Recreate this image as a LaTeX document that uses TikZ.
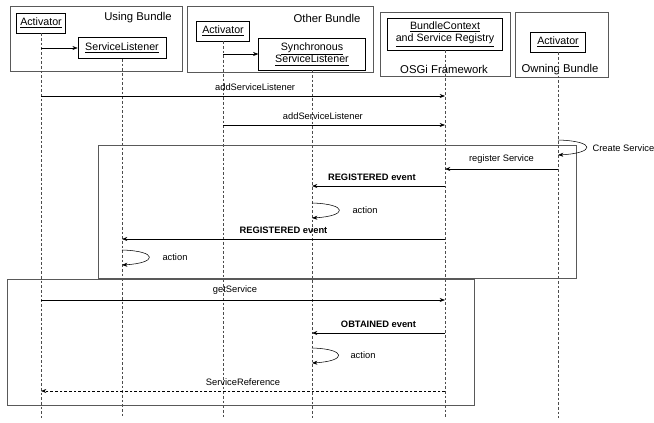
\documentclass[tikz,border=0pt]{standalone}
\usepackage{fontspec}
\setmainfont{Liberation Sans}
\usetikzlibrary{arrows.meta,calc}
\tikzset{
>={Stealth[length=4pt,width=3pt]},
obj/.style={draw,thin,inner sep=2pt,font=\fontsize{8}{9.5}\selectfont,align=center},
bundle/.style={draw,thin,gray!70!black},
vita/.style={dash pattern=on 2pt off 1.5pt,thin,gray!60!black},
msg/.style={->,thin},
risposta/.style={->,thin,dash pattern=on 2pt off 1.5pt},
etichetta/.style={font=\fontsize{7}{8.5}\selectfont,inner sep=1pt},
evento/.style={font=\fontsize{7}{8.5}\selectfont\bfseries,inner sep=1pt},
titolo/.style={font=\fontsize{8.5}{10}\selectfont,inner sep=1pt}}

\begin{document}
\begin{tikzpicture}[x=0.75pt,y=-0.75pt]

\useasboundingbox (0,0) rectangle (654,422);

% bundles
\draw[bundle] (10,6) rectangle (182,71);
\draw[bundle] (187,6) rectangle (373,72);
\draw[bundle] (380,12) rectangle (510,76);
\draw[bundle] (515,12) rectangle (608,77);

\node[titolo] (t1) at (138,18) {Using Bundle};
\node[titolo] (t2) at (327,18) {Other Bundle};
\node[titolo] (t3) at (444,69) {OSGi Framework};
\node[titolo] (t4) at (560,70) {Owning Bundle};

\node[obj,minimum width=37pt,minimum height=15pt] (act1) at (41,23) {\underline{Activator}};
\node[obj,minimum width=66pt,minimum height=16pt] (sl) at (122,48) {\underline{ServiceListener}};
\node[obj,minimum width=40pt,minimum height=15pt] (act2) at (223,31) {\underline{Activator}};
\node[obj,minimum width=80pt,minimum height=24pt] (ssl) at (312,54) {\underline{Synchronous}\\\underline{ServiceListener}};
\node[obj,minimum width=86pt,minimum height=24pt] (ctx) at (445,34) {\underline{BundleContext}\\\underline{and Service Registry}};
\node[obj,minimum width=41pt,minimum height=15pt] (act3) at (558,42) {\underline{Activator}};

% lifelines
\foreach \n in {act1,sl,act2,ssl,ctx,act3}
  \draw[vita] (\n.south) -- (\n.south |- 0,418);

\draw[msg] (act1 |- sl.west) -- (sl.west);
\draw[msg] (act2 |- ssl.west) -- (ssl.west);

% frames
\draw[bundle] (98,145) rectangle (576,278);
\draw[bundle] (7,279) rectangle (474,405);

% listeners
\draw[msg] (act1 |- 0,96) -- node[etichetta,above=3pt,pos=0.53]{addServiceListener} (ctx |- 0,96);
\draw[msg] (act2 |- 0,125) -- node[etichetta,above=3pt,pos=0.45]{addServiceListener} (ctx |- 0,125);

% registration
\draw[msg] (act3 |- 0,140) .. controls (596,141) and (596,153) .. (act3 |- 0,155);
\node[etichetta,anchor=west] (cs) at (591,148) {Create Service};
\draw[msg] (act3 |- 0,169) -- node[etichetta,above=3pt]{register Service} (ctx |- 0,169);
\draw[msg] (ctx |- 0,186) -- node[evento,above=3pt,pos=0.55]{REGISTERED event} (ssl |- 0,186);
\draw[msg] (ssl |- 0,203) .. controls (348,204) and (348,216) .. (ssl |- 0,218);
\node[etichetta] (a1) at (365,210) {action};
\draw[msg] (ctx |- 0,239) -- node[evento,above=3pt,pos=0.5]{REGISTERED event} (sl |- 0,239);
\draw[msg] (sl |- 0,250) .. controls (158,251) and (158,263) .. (sl |- 0,265);
\node[etichetta] (a2) at (175,257) {action};

% getService
\draw[msg] (act1 |- 0,300) -- node[etichetta,above=3pt,pos=0.48]{getService} (ctx |- 0,300);
\draw[msg] (ctx |- 0,333) -- node[evento,above=3pt,pos=0.5]{OBTAINED event} (ssl |- 0,333);
\draw[msg] (ssl |- 0,348) .. controls (347,349) and (347,361) .. (ssl |- 0,363);
\node[etichetta] (a3) at (363,355) {action};
\draw[risposta] (ctx |- 0,391) -- node[etichetta,above=3pt,pos=0.5]{ServiceReference} (act1 |- 0,391);

\end{tikzpicture}
\end{document}
